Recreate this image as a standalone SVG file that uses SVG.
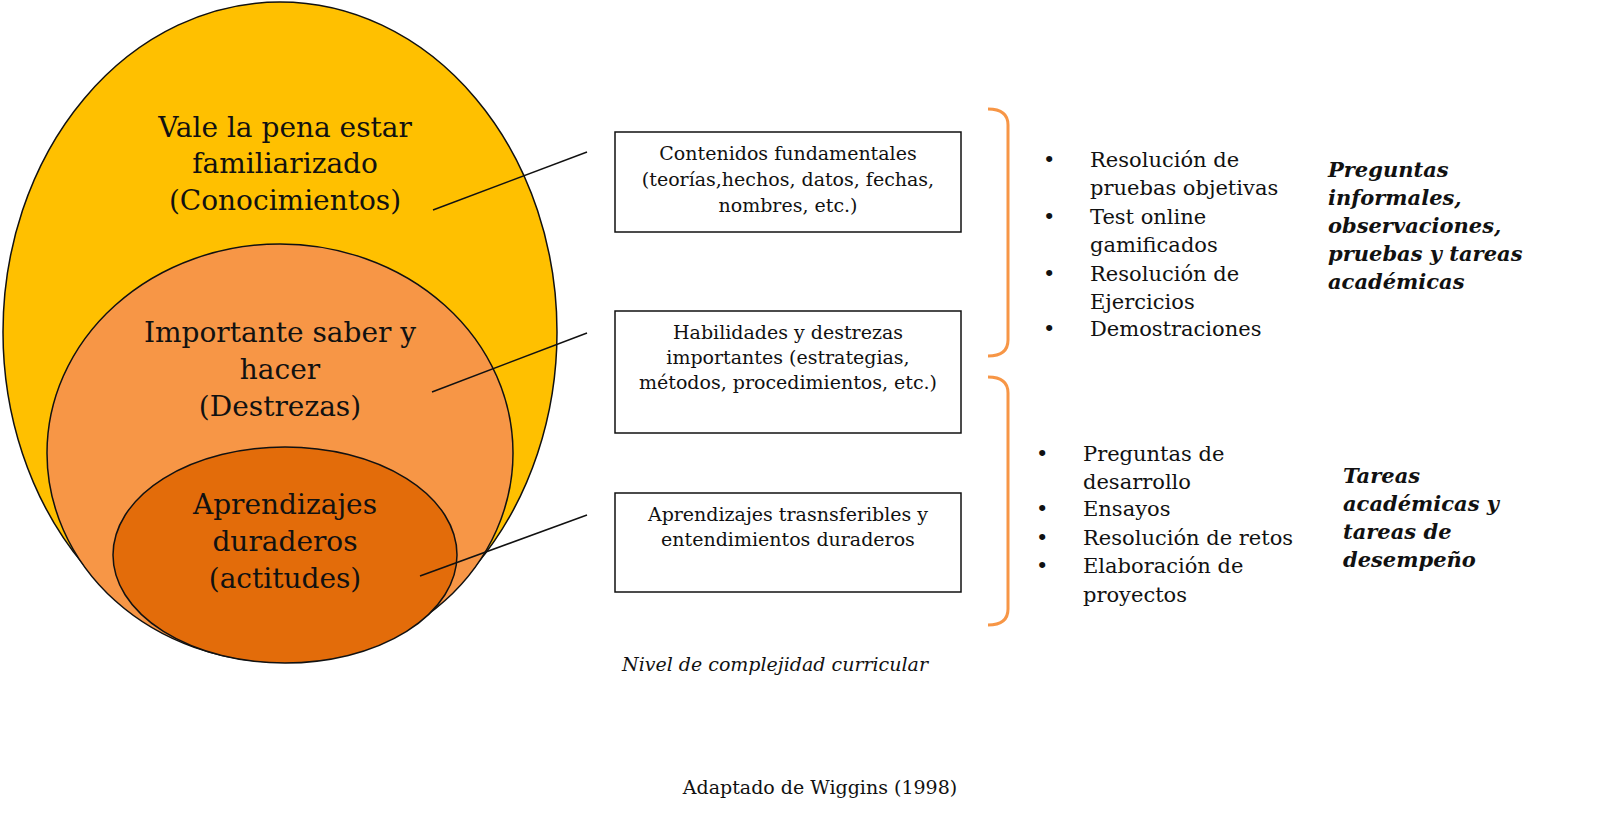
<svg xmlns="http://www.w3.org/2000/svg" width="1600" height="829" viewBox="0 0 1600 829">
<style>
text{font-family:"DejaVu Serif","Liberation Serif",serif;fill:#111}
.big{font-size:28px}
.box{fill:#fff;stroke:#111;stroke-width:1.5}
.bt{font-size:19px}
.li{font-size:21px}
.bi{font-size:21px;font-weight:bold;font-style:italic}
.br{fill:none;stroke:#F79646;stroke-width:3}
.ln{stroke:#111;stroke-width:1.5}
</style>
<rect width="1600" height="829" fill="#fff"/>
<g id="outer"><ellipse cx="280" cy="332" rx="277" ry="330" fill="#FFC000" stroke="#111" stroke-width="1.5"/>
<text class="big" text-anchor="middle"><tspan x="285" y="137">Vale la pena estar</tspan><tspan x="285" y="173">familiarizado</tspan><tspan x="285" y="210">(Conocimientos)</tspan></text></g>
<g id="middle"><ellipse cx="280" cy="453" rx="233" ry="209" fill="#F79646" stroke="#111" stroke-width="1.5"/>
<text class="big" text-anchor="middle"><tspan x="280" y="342">Importante saber y</tspan><tspan x="280" y="379">hacer</tspan><tspan x="280" y="416">(Destrezas)</tspan></text></g>
<g id="inner"><ellipse cx="285" cy="555" rx="172" ry="108" fill="#E36C0A" stroke="#111" stroke-width="1.5"/>
<text class="big" text-anchor="middle"><tspan x="285" y="514">Aprendizajes</tspan><tspan x="285" y="551">duraderos</tspan><tspan x="285" y="588">(actitudes)</tspan></text></g>
<g id="connectors">
<line class="ln" x1="433" y1="210" x2="587" y2="152"/>
<line class="ln" x1="432" y1="392" x2="587" y2="333"/>
<line class="ln" x1="420" y1="576" x2="587" y2="515"/>
<path class="br" d="M988,109 Q1008,109 1008,125 L1008,340 Q1008,356 988,356"/>
<path class="br" d="M988,377 Q1008,377 1008,393 L1008,609 Q1008,625 988,625"/>
</g>
<g id="box1"><rect class="box" x="615" y="132" width="346" height="100"/>
<text class="bt" text-anchor="middle"><tspan x="788" y="160">Contenidos fundamentales</tspan><tspan x="788" y="186">(teorías,hechos, datos, fechas,</tspan><tspan x="788" y="212">nombres, etc.)</tspan></text></g>
<g id="box2"><rect class="box" x="615" y="311" width="346" height="122"/>
<text class="bt" text-anchor="middle"><tspan x="788" y="339">Habilidades y destrezas</tspan><tspan x="788" y="364">importantes (estrategias,</tspan><tspan x="788" y="389">métodos, procedimientos, etc.)</tspan></text></g>
<g id="box3"><rect class="box" x="615" y="493" width="346" height="99"/>
<text class="bt" text-anchor="middle"><tspan x="788" y="521">Aprendizajes trasnsferibles y</tspan><tspan x="788" y="546">entendimientos duraderos</tspan></text></g>
<g id="list1"><text class="li">
<tspan x="1043" y="167">•</tspan><tspan x="1090" y="167">Resolución de</tspan><tspan x="1090" y="195">pruebas objetivas</tspan>
<tspan x="1043" y="224">•</tspan><tspan x="1090" y="224">Test online</tspan><tspan x="1090" y="252">gamificados</tspan>
<tspan x="1043" y="281">•</tspan><tspan x="1090" y="281">Resolución de</tspan><tspan x="1090" y="309">Ejercicios</tspan>
<tspan x="1043" y="336">•</tspan><tspan x="1090" y="336">Demostraciones</tspan></text></g>
<g id="list2"><text class="li">
<tspan x="1036" y="461">•</tspan><tspan x="1083" y="461">Preguntas de</tspan><tspan x="1083" y="489">desarrollo</tspan>
<tspan x="1036" y="516">•</tspan><tspan x="1083" y="516">Ensayos</tspan>
<tspan x="1036" y="545">•</tspan><tspan x="1083" y="545">Resolución de retos</tspan>
<tspan x="1036" y="573">•</tspan><tspan x="1083" y="573">Elaboración de</tspan><tspan x="1083" y="602">proyectos</tspan></text></g>
<g id="label1"><text class="bi"><tspan x="1328" y="177">Preguntas</tspan><tspan x="1328" y="205">informales,</tspan><tspan x="1328" y="233">observaciones,</tspan><tspan x="1328" y="261">pruebas y tareas</tspan><tspan x="1328" y="289">académicas</tspan></text></g>
<g id="label2"><text class="bi"><tspan x="1343" y="483">Tareas</tspan><tspan x="1343" y="511">académicas y</tspan><tspan x="1343" y="539">tareas de</tspan><tspan x="1343" y="567">desempeño</tspan></text></g>
<text x="775" y="671" text-anchor="middle" font-size="19" font-style="italic">Nivel de complejidad curricular</text>
<text x="820" y="794" text-anchor="middle" font-size="19">Adaptado de Wiggins (1998)</text>
</svg>
